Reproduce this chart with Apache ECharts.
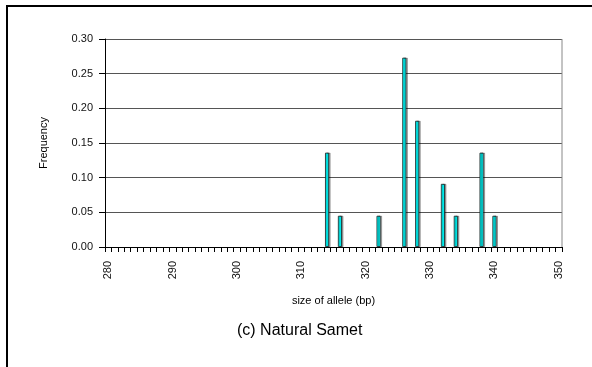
<!DOCTYPE html>
<html>
<head>
<meta charset="utf-8">
<script src="https://cdn.jsdelivr.net/npm/echarts@6/dist/echarts.min.js"></script>
<style>
  html, body { margin: 0; padding: 0; background: #fff; overflow: hidden; }
  #chart { position: absolute; left: 0; top: 0; width: 592px; height: 367px; }
  #frame { position: absolute; left: 6px; top: 5px; width: 700px; height: 500px;
           border: 2px solid #000; pointer-events: none; }
</style>
</head>
<body>
<div id="chart"></div>
<div id="frame"></div>
<script>
// Allele size range shown on the x axis (bp)
const sizeMin = 280;
const sizeMax = 350;
const categories = [];
for (let s = sizeMin; s <= sizeMax; s++) categories.push(String(s));

// Observed alleles and their frequencies
const alleleSizes = [314, 316, 322, 326, 328, 332, 334, 338, 340];
const frequencies = [0.136, 0.045, 0.045, 0.273, 0.182, 0.091, 0.045, 0.136, 0.045];

// Y axis ticks
const yTicks = [0.00, 0.05, 0.10, 0.15, 0.20, 0.25, 0.30];

const barData = alleleSizes.map((s, i) => [String(s), frequencies[i]]);

const chart = echarts.init(document.getElementById('chart'), null, { renderer: 'canvas' });
chart.setOption({
  animation: false,
  backgroundColor: '#fff',
  title: {
    text: '(c) Natural Samet',
    left: 232,
    top: 318,
    textStyle: { fontFamily: 'Liberation Sans, Arial, sans-serif', fontSize: 16, fontWeight: 'normal', color: '#000' }
  },
  grid: { left: 105, right: 30, top: 39, bottom: 120, containLabel: false },
  xAxis: {
    type: 'category',
    data: categories,
    boundaryGap: true,
    name: 'size of allele (bp)',
    nameLocation: 'middle',
    nameGap: 48,
    nameTextStyle: { fontFamily: 'Liberation Sans, Arial, sans-serif', fontSize: 11, color: '#000' },
    axisLine: { lineStyle: { color: '#000', width: 1 } },
    axisTick: { show: true, interval: 0, length: 5, lineStyle: { color: '#000' } },
    axisLabel: {
      interval: 9,
      rotate: 90,
      margin: 14,
      fontFamily: 'Liberation Sans, Arial, sans-serif',
      fontSize: 11,
      color: '#111'
    },
    splitLine: { show: false }
  },
  yAxis: {
    type: 'value',
    min: yTicks[0],
    max: yTicks[yTicks.length - 1],
    interval: 0.05,
    name: 'Frequency',
    nameLocation: 'middle',
    nameGap: 56,
    nameTextStyle: { fontFamily: 'Liberation Sans, Arial, sans-serif', fontSize: 11, color: '#000' },
    axisLine: { show: true, lineStyle: { color: '#000', width: 1 } },
    axisTick: { show: true, length: 6, lineStyle: { color: '#000' } },
    axisLabel: {
      margin: 12,
      formatter: v => v.toFixed(2),
      fontFamily: 'Liberation Sans, Arial, sans-serif',
      fontSize: 11,
      color: '#111'
    },
    splitLine: { show: true, lineStyle: { color: '#555', width: 1 } }
  },
  series: [{
    type: 'bar',
    data: barData,
    barWidth: 4,
    itemStyle: {
      color: '#00ffff',
      borderColor: '#1a1a1a',
      borderWidth: 0.8,
      shadowColor: 'rgba(0,0,0,0.35)',
      shadowOffsetX: 1.5,
      shadowOffsetY: 0,
      shadowBlur: 0
    }
  }]
});

// Right edge of the plot area
const topY = chart.convertToPixel({ gridIndex: 0 }, [0, yTicks[yTicks.length - 1]])[1];
const botY = chart.convertToPixel({ gridIndex: 0 }, [0, yTicks[0]])[1];
const x0 = chart.convertToPixel({ gridIndex: 0 }, [0, 0])[0];
const x1 = chart.convertToPixel({ gridIndex: 0 }, [1, 0])[0];
const edgeX = chart.convertToPixel({ gridIndex: 0 }, [sizeMax - sizeMin, 0])[0] + (x1 - x0) / 2;
chart.setOption({
  graphic: [{
    type: 'line',
    shape: { x1: edgeX, y1: topY, x2: edgeX, y2: botY },
    style: { stroke: '#888', lineWidth: 1 },
    silent: true
  }]
});
</script>
</body>
</html>
